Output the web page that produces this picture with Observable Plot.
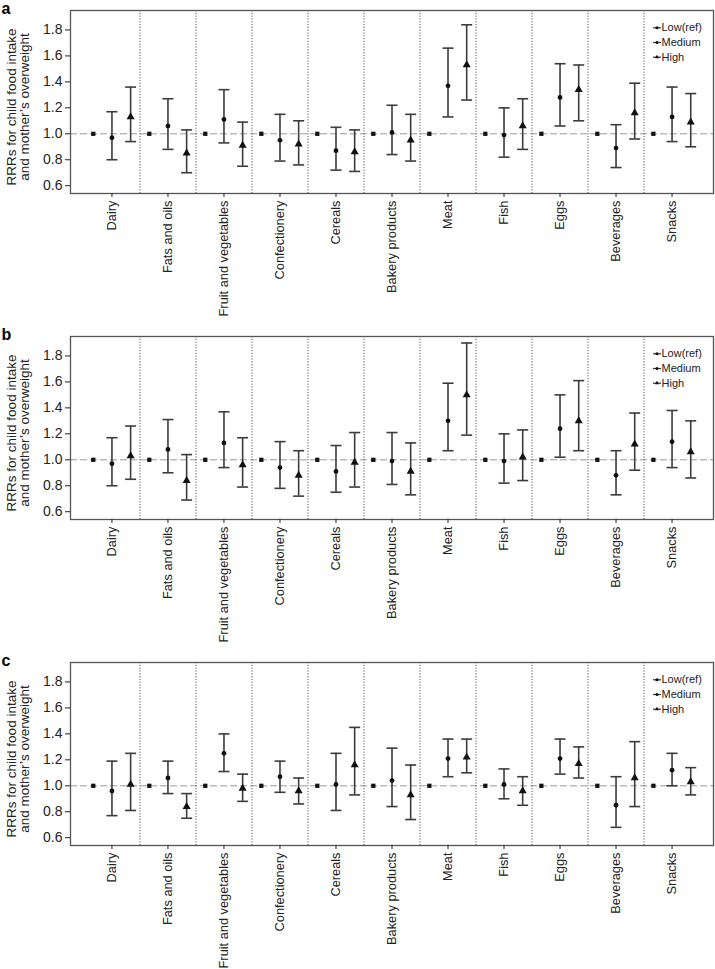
<!DOCTYPE html>
<html><head><meta charset="utf-8">
<script src="https://cdn.jsdelivr.net/npm/d3@7"></script>
<script src="https://cdn.jsdelivr.net/npm/@observablehq/plot@0.6"></script>
<style>
body{margin:0;background:#fff;}
#chart svg{display:block;}
</style></head><body><div id="chart"></div>
<script>
const categories = ["Dairy","Fats and oils","Fruit and vegetables","Confectionery","Cereals","Bakery products","Meat","Fish","Eggs","Beverages","Snacks"];
const levels = ["Low(ref)","Medium","High"];
const yTicks = [0.6,0.8,1.0,1.2,1.4,1.6,1.8];
const lowRef = [1,1,1,1,1,1,1,1,1,1,1];

// panel a
const aMed   = [0.97,1.06,1.11,0.95,0.87,1.01,1.37,0.99,1.28,0.89,1.13];
const aMedLo = [0.80,0.88,0.93,0.79,0.72,0.84,1.13,0.82,1.06,0.74,0.94];
const aMedHi = [1.17,1.27,1.34,1.15,1.05,1.22,1.66,1.20,1.54,1.07,1.36];
const aHigh   = [1.13,0.85,0.91,0.92,0.86,0.95,1.53,1.06,1.34,1.16,1.09];
const aHighLo = [0.94,0.70,0.75,0.76,0.71,0.79,1.26,0.88,1.10,0.96,0.90];
const aHighHi = [1.36,1.03,1.09,1.10,1.03,1.15,1.84,1.27,1.53,1.39,1.31];
// panel b
const bMed   = [0.97,1.08,1.13,0.94,0.91,0.99,1.30,0.99,1.24,0.88,1.14];
const bMedLo = [0.80,0.90,0.94,0.78,0.75,0.81,1.07,0.82,1.02,0.73,0.94];
const bMedHi = [1.17,1.31,1.37,1.14,1.11,1.21,1.59,1.20,1.50,1.07,1.38];
const bHigh   = [1.03,0.84,0.96,0.88,0.98,0.91,1.50,1.02,1.30,1.12,1.06];
const bHighLo = [0.85,0.69,0.79,0.72,0.79,0.73,1.19,0.84,1.07,0.92,0.86];
const bHighHi = [1.26,1.04,1.17,1.07,1.21,1.13,1.90,1.23,1.61,1.36,1.30];
// panel c
const cMed   = [0.96,1.06,1.25,1.07,1.01,1.04,1.21,1.01,1.21,0.85,1.12];
const cMedLo = [0.77,0.94,1.11,0.95,0.81,0.84,1.07,0.90,1.09,0.68,1.00];
const cMedHi = [1.19,1.19,1.40,1.19,1.25,1.29,1.36,1.13,1.36,1.07,1.25];
const cHigh   = [1.01,0.84,0.98,0.96,1.16,0.93,1.22,0.96,1.17,1.06,1.03];
const cHighLo = [0.81,0.75,0.88,0.86,0.93,0.74,1.10,0.85,1.06,0.84,0.93];
const cHighHi = [1.25,0.94,1.09,1.06,1.45,1.16,1.36,1.07,1.30,1.34,1.14];

const panels = [
  {letter:"a", med:aMed, medLo:aMedLo, medHi:aMedHi, high:aHigh, highLo:aHighLo, highHi:aHighHi},
  {letter:"b", med:bMed, medLo:bMedLo, medHi:bMedHi, high:bHigh, highLo:bHighLo, highHi:bHighHi},
  {letter:"c", med:cMed, medLo:cMedLo, medHi:cMedHi, high:cHigh, highLo:cHighLo, highHi:cHighHi}
];

const hline = {draw(ctx, size){ const w = Math.sqrt(size/Math.PI); ctx.moveTo(-w,0); ctx.lineTo(w,0); }};
const levelShift = [-1/3, 0, 1/3];
const levelSymbols = ["square","circle","triangle"];
const levelR = [2.4, 2.4, 3.0];
const ink = "#222";
const barColor = "#3c3c3c";

function makePanel(p){
  const rows = [];
  categories.forEach((c,i)=>{
    rows.push({cat:c, level:0, x:i+levelShift[0], v:lowRef[i], lo:null, hi:null});
    rows.push({cat:c, level:1, x:i+levelShift[1], v:p.med[i], lo:p.medLo[i], hi:p.medHi[i]});
    rows.push({cat:c, level:2, x:i+levelShift[2], v:p.high[i], lo:p.highLo[i], hi:p.highHi[i]});
  });
  const ci = rows.filter(d=>d.lo!=null);
  const seps = categories.slice(1).map((_,i)=>i+0.5);
  const marks = [
    Plot.ruleY([1], {stroke:"#9a9a9a", strokeDasharray:"7,3", strokeWidth:1}),
    Plot.ruleX(seps, {stroke:"#555", strokeDasharray:"1.2,1.6", strokeWidth:1}),
    Plot.ruleX(ci, {x:"x", y1:"lo", y2:"hi", stroke:barColor, strokeWidth:1.6}),
    Plot.dot(ci, {x:"x", y:"lo", symbol:hline, r:5.5, stroke:barColor, strokeWidth:1.6, fill:"none"}),
    Plot.dot(ci, {x:"x", y:"hi", symbol:hline, r:5.5, stroke:barColor, strokeWidth:1.6, fill:"none"}),
  ];
  levels.forEach((lv,k)=>{
    marks.push(Plot.dot(rows.filter(d=>d.level===k), {x:"x", y:"v", symbol:levelSymbols[k], r:levelR[k], fill:"#111", stroke:"none"}));
    const dy = 17.3 + k*14.7;
    marks.push(Plot.dot([lv], {frameAnchor:"top-right", dx:-56.5, dy, symbol:hline, r:4, stroke:"#333", strokeWidth:1.2, fill:"none"}));
    marks.push(Plot.dot([lv], {frameAnchor:"top-right", dx:-56.5, dy, symbol:levelSymbols[k], r:1.5, fill:"#111", stroke:"none"}));
    marks.push(Plot.text([lv], {frameAnchor:"top-right", dx:-52, dy, text:d=>d, textAnchor:"start", lineAnchor:"middle", fontSize:11, fill:ink}));
  });
  marks.push(
    Plot.frame({stroke:"#555", strokeWidth:1.3}),
    Plot.axisY({ticks:yTicks, tickFormat:d=>d.toFixed(1), tickSize:5, tickPadding:3, fontSize:14, label:null}),
    Plot.axisX({ticks:categories.map((_,i)=>i), tickFormat:i=>categories[i], tickRotate:-90, tickSize:4, tickPadding:3, fontSize:12.8, label:null}),
    Plot.text(["RRRs for child food intake"], {frameAnchor:"left", text:d=>d, rotate:-90, textAnchor:"middle", lineAnchor:"bottom", dx:-55, dy:5, fontSize:13.5, fill:ink}),
    Plot.text(["and mother\u2019s overweight"], {frameAnchor:"left", text:d=>d, rotate:-90, textAnchor:"middle", lineAnchor:"bottom", dx:-42, dy:5, fontSize:13.5, fill:ink}),
    Plot.text([p.letter], {frameAnchor:"top-left", text:d=>d, dx:-69, dy:3, lineAnchor:"bottom", textAnchor:"start", fontSize:16, fontWeight:"bold", fill:"#000"})
  );
  return Plot.plot({
    width:715, height:326,
    marginTop:10, marginBottom:133, marginLeft:70, marginRight:2,
    style:{fontFamily:"'Liberation Sans', Arial, sans-serif", fontSize:"13px", color:ink, background:"white", overflow:"visible"},
    x:{type:"linear", domain:[-0.74, 10.74], label:null},
    y:{domain:[0.54, 1.95], label:null},
    marks
  });
}

const host = document.getElementById("chart");
panels.forEach(p=>host.appendChild(makePanel(p)));
</script>
</body></html>
